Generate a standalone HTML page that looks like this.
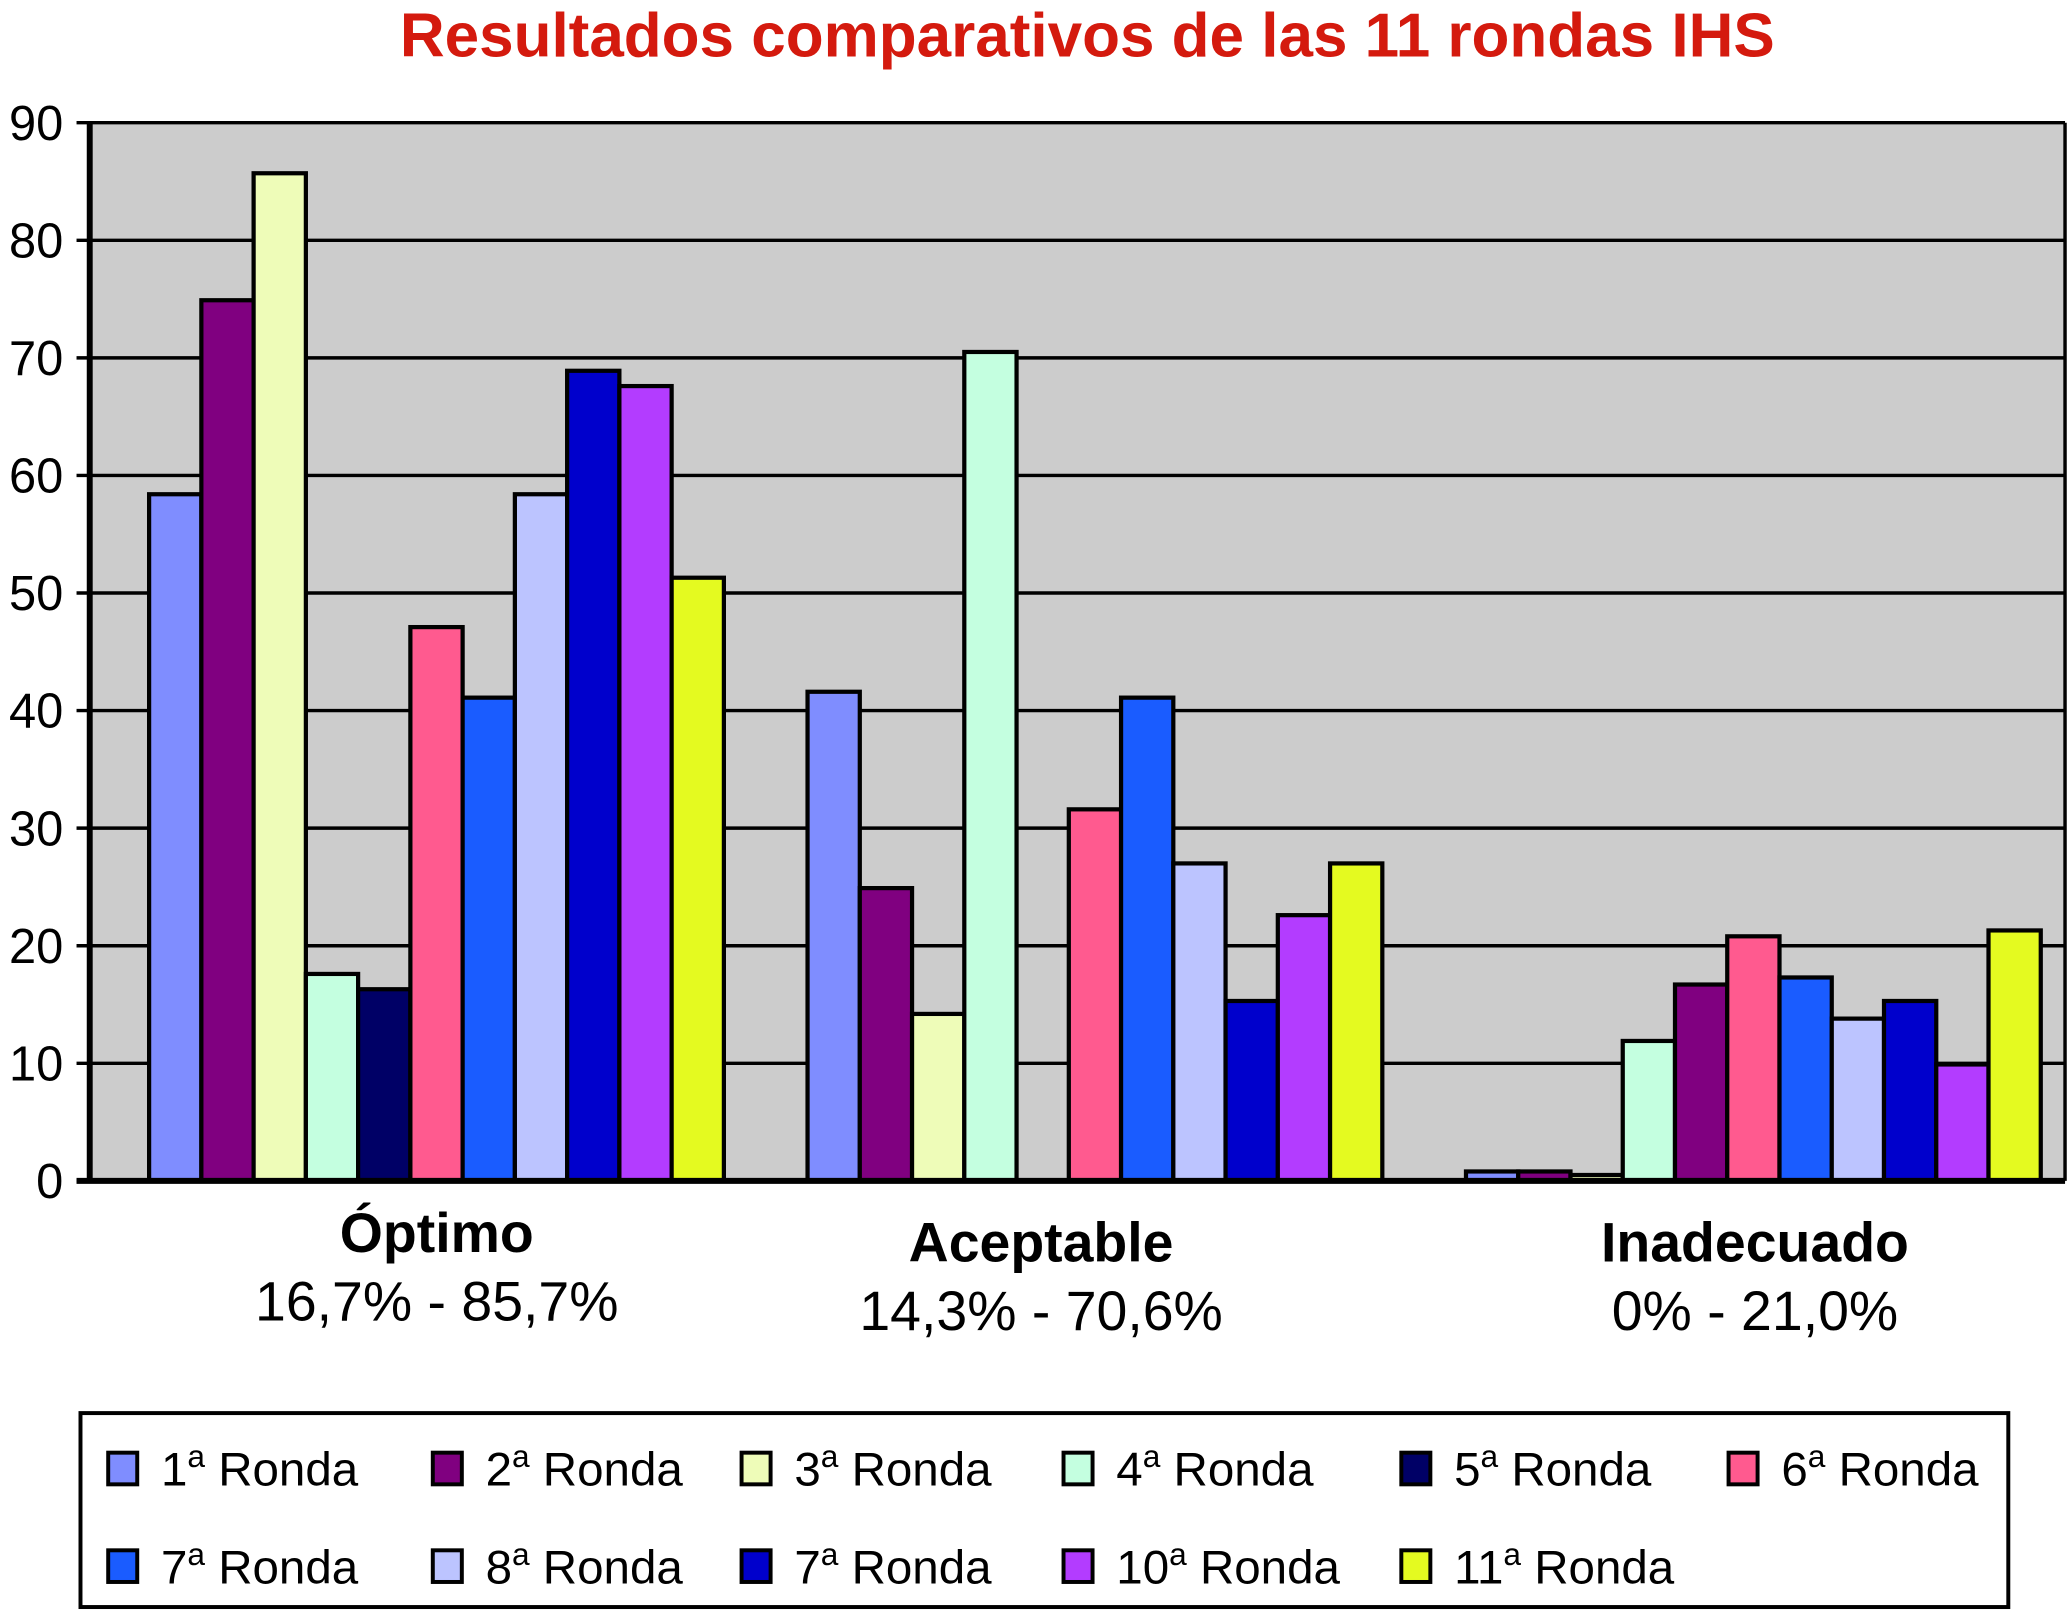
<!DOCTYPE html>
<html><head><meta charset="utf-8">
<style>
html,body{margin:0;padding:0;background:#fff;}
svg{display:block;font-family:"Liberation Sans",Arial,sans-serif;}
</style></head>
<body>
<svg id="chart" width="2069" height="1611" viewBox="0 0 1568 1221" preserveAspectRatio="none" xmlns="http://www.w3.org/2000/svg">
<text x="824" y="43" text-anchor="middle" font-size="47" font-weight="bold" fill="#d41a0e">Resultados comparativos de las 11 rondas IHS</text>
<rect x="68" y="93" width="1497" height="802" fill="#cccccc"/>
<g id="grid"></g>
<g id="bars"></g>
<g id="cats"></g>
<rect x="61" y="1071" width="1461" height="147" fill="#fff" stroke="#000" stroke-width="3"/>
<g id="legend"></g>
</svg>
<script>
const categories = ["Óptimo", "Aceptable", "Inadecuado"];
const ranges = ["16,7% - 85,7%", "14,3% - 70,6%", "0% - 21,0%"];
const series = ["1", "2", "3", "4", "5", "6", "7", "8", "7", "10", "11"];
const valuesOptimo = [58.4, 74.9, 85.7, 17.6, 16.3, 47.1, 41.1, 58.4, 68.9, 67.6, 51.3];
const valuesAceptable = [41.6, 24.9, 14.2, 70.5, 0, 31.6, 41.1, 27.0, 15.3, 22.6, 27.0];
const valuesInadecuado = [0.8, 0.8, 0.5, 11.9, 16.7, 20.8, 17.3, 13.8, 15.3, 9.9, 21.3];
const yTicks = [0, 10, 20, 30, 40, 50, 60, 70, 80, 90];
const colors = ["#7f8dff","#800080","#eefcb8","#c4ffe0","#000066","#ff5a8f","#1a5cff","#bcc4ff","#0000cc","#b33cff","#e4fa20"];

const NS = "http://www.w3.org/2000/svg";
const X0 = 68, X1 = 1565, Y0 = 895, Y90 = 93;
const yScale = v => Y0 - (v / 90) * (Y0 - Y90);
const groupW = (X1 - X0) / 3, barW = 39.6, groupOff = 45;
const xBar = (g, i) => X0 + groupOff + g * groupW + i * barW;
function mk(tag, attrs, parent){ const e=document.createElementNS(NS,tag); for(const k in attrs) e.setAttribute(k,attrs[k]); parent.appendChild(e); return e; }

const grid = document.getElementById('grid');
yTicks.forEach(t => {
  const y = yScale(t);
  const l = mk('line',{x1:58,x2:X1,y1:y,y2:y,stroke:'#000','stroke-width':2.6},grid);
  
  
  const tx = mk('text',{x:48,y:y+13,'text-anchor':'end','font-size':37,fill:'#000'},grid);
  
  
  tx.textContent = t;
});
const ax = mk('line',{x1:X0,x2:X0,y1:Y90,y2:Y0+2,stroke:'#000','stroke-width':4.5},grid);


const rb = mk('line',{x1:X1,x2:X1,y1:Y90,y2:Y0,stroke:'#000','stroke-width':2.6},grid);



const bars = document.getElementById('bars');
[valuesOptimo, valuesAceptable, valuesInadecuado].forEach((vals, g) => {
  vals.forEach((v, i) => {
    if (v <= 0) return;
    const y = yScale(v);
    const fill = (g === 2 && i === 4) ? colors[1] : colors[i];
    const r = mk('rect',{x:xBar(g,i),y:y,width:barW,height:Y0-y,fill:fill,stroke:'#000','stroke-width':3.2},bars);
    
    
  });
});
const xa = mk('line',{x1:58,x2:X1,y1:Y0,y2:Y0,stroke:'#000','stroke-width':4.5},bars);



const cats = document.getElementById('cats');
const catY = [935, 942, 942];
const catX = [331, 789, 1330];
categories.forEach((c, g) => {
  const cx = catX[g];
  const t1 = mk('text',{x:cx,y:catY[g]+14,'text-anchor':'middle','font-size':42,'font-weight':'bold',fill:'#000'},cats);
  
  
  t1.textContent = c;
  const t2 = mk('text',{x:cx,y:catY[g]+66,'text-anchor':'middle','font-size':42,fill:'#000'},cats);
  
  
  t2.textContent = ranges[g];
});

const legend = document.getElementById('legend');
const legX = [82, 328, 562, 806, 1062, 1310];
series.forEach((s, i) => {
  const row = Math.floor(i/6), col = i%6;
  const x = legX[col], y = row ? 1187 : 1113;
  const sw = mk('rect',{x:x,y:y-12,width:22,height:24,fill:colors[i],stroke:'#000','stroke-width':3},legend);
  
  
  const t = mk('text',{x:x+40,y:y+13,'font-size':36,fill:'#000'},legend);
  
  
  const a = document.createElementNS(NS,'tspan'); a.textContent = s; t.appendChild(a);
  const b = document.createElementNS(NS,'tspan'); b.setAttribute('dy','-14'); b.setAttribute('font-size','24'); b.textContent='a'; t.appendChild(b);
  const c = document.createElementNS(NS,'tspan'); c.setAttribute('dy','14'); c.textContent=' Ronda'; t.appendChild(c);
});
</script>
</body></html>
